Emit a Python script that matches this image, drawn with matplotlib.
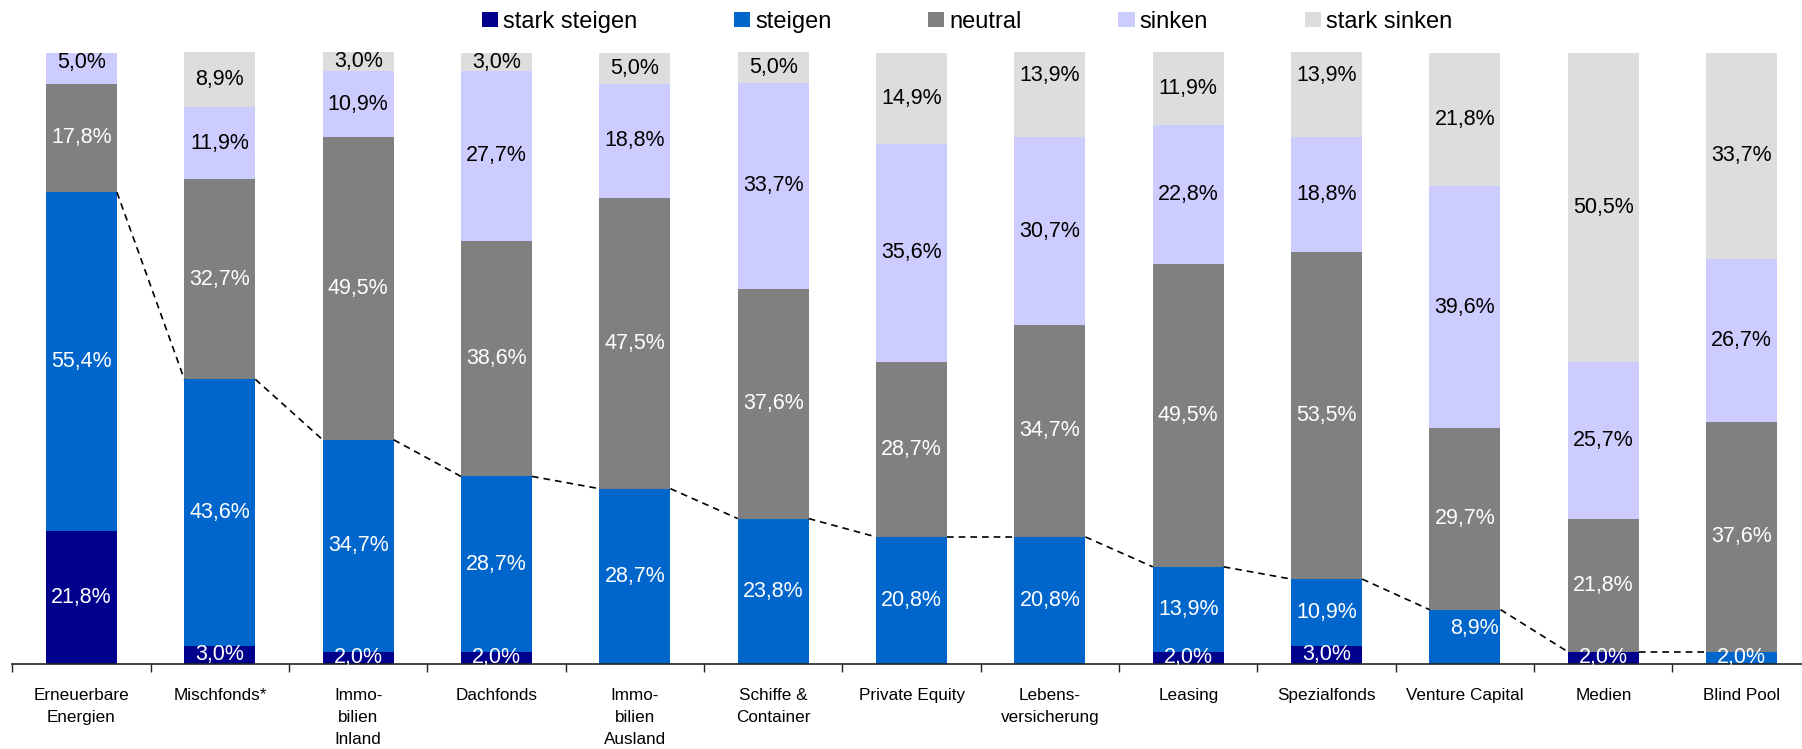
import matplotlib
matplotlib.use("Agg")
import matplotlib.pyplot as plt
from matplotlib.patches import Patch
import numpy as np

plt.rcParams['font.family'] = ['Liberation Sans', 'DejaVu Sans']

categories = ["Erneuerbare\nEnergien", "Mischfonds*", "Immo-\nbilien\nInland", "Dachfonds",
              "Immo-\nbilien\nAusland", "Schiffe &\nContainer", "Private Equity",
              "Lebens-\nversicherung", "Leasing", "Spezialfonds", "Venture Capital",
              "Medien", "Blind Pool"]

stark_steigen = [21.8, 3.0, 2.0, 2.0, 0.0, 0.0, 0.0, 0.0, 2.0, 3.0, 0.0, 2.0, 0.0]
steigen       = [55.4, 43.6, 34.7, 28.7, 28.7, 23.8, 20.8, 20.8, 13.9, 10.9, 8.9, 0.0, 2.0]
neutral       = [17.8, 32.7, 49.5, 38.6, 47.5, 37.6, 28.7, 34.7, 49.5, 53.5, 29.7, 21.8, 37.6]
sinken        = [5.0, 11.9, 10.9, 27.7, 18.8, 33.7, 35.6, 30.7, 22.8, 18.8, 39.6, 25.7, 26.7]
stark_sinken  = [0.0, 8.9, 3.0, 3.0, 5.0, 5.0, 14.9, 13.9, 11.9, 13.9, 21.8, 50.5, 33.7]

series_names = ["stark steigen", "steigen", "neutral", "sinken", "stark sinken"]
series_values = [stark_steigen, steigen, neutral, sinken, stark_sinken]
colors = ["#00008C", "#0066CC", "#808080", "#CCCCFF", "#DDDDDD"]
text_colors = ["white", "white", "white", "black", "black"]

# a few value labels sit slightly off the segment centre (offsets in points)
label_nudge = {(4, 7): (0, 14), (4, 9): (0, 14), (1, 10): (7, 6), (3, 0): (0, 4)}

W, H = 1802, 749
fig = plt.figure(figsize=(W / 100, H / 100), dpi=100)
left_px, base_px, top_px = 12.3, 664.0, 53.0
cat_w = 138.35
n = len(categories)
ax = fig.add_axes([left_px / W, (H - base_px) / H, n * cat_w / W, (base_px - top_px) / H])

x = np.arange(n)
bar_w = 0.513
bottom = np.zeros(n)
for s_idx, (vals, col, tcol) in enumerate(zip(series_values, colors, text_colors)):
    vals = np.array(vals)
    ax.bar(x, vals, bar_w, bottom=bottom, color=col, edgecolor='none', clip_on=False)
    for i, v in enumerate(vals):
        if v > 0:
            dx, dy = label_nudge.get((s_idx, i), (0, 0))
            ax.annotate(f"{v:.1f}%".replace('.', ','), (x[i], bottom[i] + v / 2),
                        xytext=(dx, dy), textcoords='offset points',
                        ha='center', va='center', fontsize=15.5, color=tcol)
    bottom += vals

# dashed connector across the tops of the positive shares
pos = np.array(stark_steigen) + np.array(steigen)
for i in range(n - 1):
    ax.plot([x[i] + bar_w / 2, x[i + 1] - bar_w / 2], [pos[i], pos[i + 1]],
            color='black', lw=1.2, ls=(0, (4, 3)))

ax.set_xlim(-0.5, n - 0.5)
ax.set_ylim(0, 100)
for s in ['top', 'right', 'left']:
    ax.spines[s].set_visible(False)
ax.spines['bottom'].set_color('#222222')
ax.spines['bottom'].set_linewidth(1.2)
ax.set_yticks([])
ax.set_xticks(np.arange(n + 1) - 0.5)
ax.set_xticklabels([])
ax.tick_params(axis='x', which='major', length=6, width=1.0, color='#222222', direction='out')
ax.set_xticks(x, minor=True)
ax.set_xticklabels(categories, minor=True, fontsize=12.3, linespacing=1.62)
ax.tick_params(axis='x', which='minor', length=0, pad=17)

handles = [Patch(facecolor=c, edgecolor='none', label=l) for c, l in zip(colors, series_names)]
fig.legend(handles=handles, loc='center left', bbox_to_anchor=(482 / W, 1 - 22 / H),
           ncol=5, frameon=False, fontsize=17, handlelength=0.68, handleheight=0.62,
           handletextpad=0.21, columnspacing=4.1, borderpad=0, borderaxespad=0)

fig.savefig("out.png", dpi=100)
